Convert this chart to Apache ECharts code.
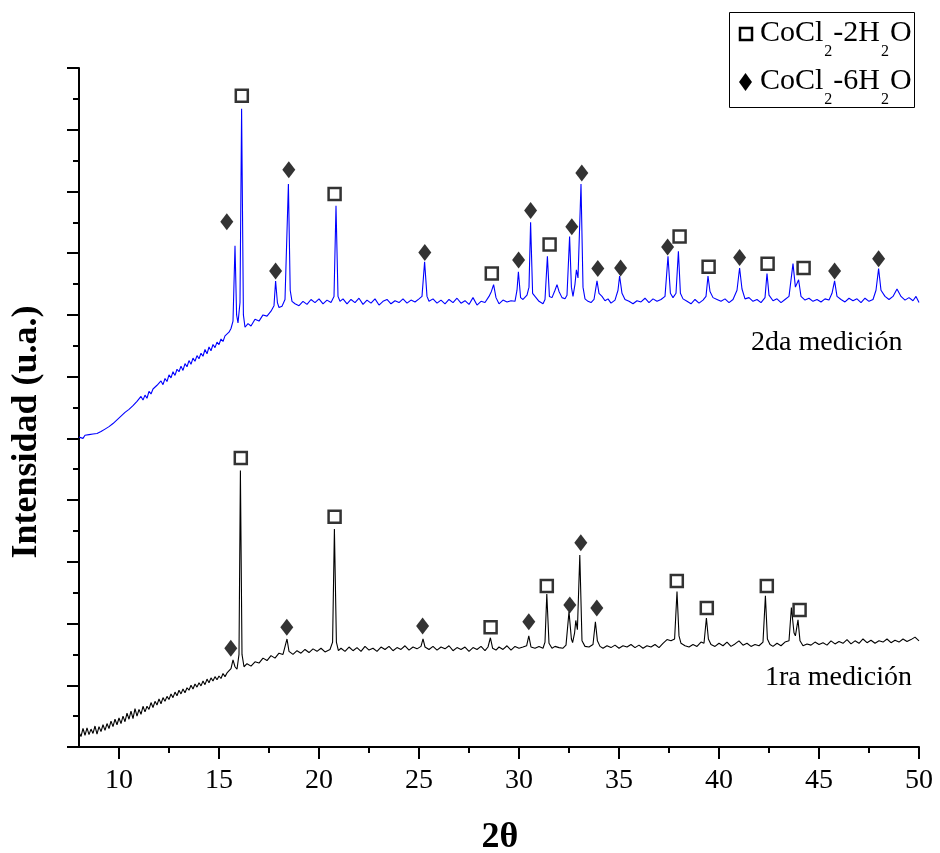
<!DOCTYPE html>
<html>
<head>
<meta charset="utf-8">
<script src="https://cdn.jsdelivr.net/npm/echarts@6/dist/echarts.min.js"></script>
<style>
html,body{margin:0;padding:0;background:#fff;}
#chart{width:940px;height:853px;}
</style>
</head>
<body>
<div id="chart"></div>
<script>
// ---- data (2θ, intensity in arbitrary units) ----
const xTickValues = [10, 15, 20, 25, 30, 35, 40, 45, 50];
const xMinorTickValues = [12.5, 17.5, 22.5, 27.5, 32.5, 37.5, 42.5, 47.5];

const medicion2 = [
[8.0,5.02],[8.1,5.04],[8.2,5.00],[8.3,5.05],[8.4,5.02],[8.5,5.06],[8.6,5.03],[8.7,5.07],[8.8,5.05],[8.9,5.08],
[9.0,5.07],[9.1,5.11],[9.2,5.10],[9.3,5.15],[9.4,5.14],[9.5,5.19],[9.6,5.18],[9.7,5.24],[9.8,5.23],[9.9,5.30],
[10.0,5.29],[10.1,5.36],[10.2,5.33],[10.3,5.42],[10.4,5.40],[10.5,5.47],[10.6,5.44],[10.7,5.53],[10.8,5.50],[10.9,5.60],
[11.0,5.57],[11.1,5.68],[11.2,5.62],[11.3,5.70],[11.4,5.65],[11.5,5.76],[11.6,5.72],[11.7,5.80],[11.8,5.77],[11.9,5.86],
[12.0,5.84],[12.1,5.93],[12.2,5.87],[12.3,5.97],[12.4,5.92],[12.5,6.03],[12.6,5.98],[12.7,6.08],[12.8,6.02],[12.9,6.12],
[13.0,6.08],[13.1,6.17],[13.2,6.10],[13.3,6.21],[13.4,6.16],[13.5,6.26],[13.6,6.20],[13.7,6.30],[13.8,6.25],[13.9,6.34],
[14.0,6.29],[14.1,6.38],[14.2,6.33],[14.3,6.44],[14.4,6.37],[14.5,6.48],[14.6,6.42],[14.7,6.52],[14.8,6.47],[14.9,6.56],
[15.0,6.52],[15.1,6.61],[15.2,6.57],[15.3,6.66],[15.4,6.63],[15.5,6.72],[15.6,6.78],[15.7,6.90],
[15.8,8.12],[15.88,7.0],[15.95,6.87],[16.05,7.2],[16.13,10.34],[16.22,7.0],[16.3,6.80],[16.45,6.86],[16.6,6.82],[16.8,6.93],
[17.0,6.90],[17.2,7.00],[17.4,6.98],[17.6,7.06],[17.75,7.15],[17.83,7.55],[17.92,7.2],[18.0,7.12],[18.15,7.14],[18.3,7.25],
[18.47,9.12],[18.56,7.4],[18.65,7.22],[18.8,7.18],[19.0,7.15],[19.2,7.22],[19.4,7.17],[19.6,7.25],[19.8,7.20],[20.0,7.26],
[20.2,7.18],[20.4,7.24],[20.6,7.20],[20.75,7.3],[20.85,8.77],[20.95,7.3],[21.05,7.22],[21.2,7.26],[21.4,7.18],[21.6,7.25],
[21.8,7.20],[22.0,7.27],[22.2,7.17],[22.4,7.24],[22.6,7.19],[22.8,7.26],[23.0,7.16],[23.2,7.22],[23.4,7.25],[23.6,7.18],
[23.8,7.23],[24.0,7.20],[24.2,7.26],[24.4,7.19],[24.6,7.24],[24.8,7.21],[25.0,7.26],[25.15,7.3],[25.28,7.86],[25.4,7.3],
[25.5,7.22],[25.7,7.26],[25.9,7.19],[26.1,7.24],[26.3,7.18],[26.5,7.25],[26.7,7.20],[26.9,7.27],[27.1,7.19],[27.3,7.23],
[27.5,7.17],[27.7,7.28],[27.9,7.16],[28.1,7.22],[28.3,7.20],[28.5,7.30],[28.62,7.38],[28.73,7.49],[28.85,7.28],[29.0,7.18],
[29.2,7.24],[29.4,7.21],[29.6,7.23],[29.8,7.22],[29.9,7.40],[29.97,7.70],[30.08,7.28],[30.2,7.25],[30.4,7.32],[30.5,7.45],
[30.58,8.50],[30.68,7.35],[30.8,7.30],[31.0,7.22],[31.2,7.18],[31.3,7.25],[31.42,7.95],[31.52,7.30],[31.65,7.28],[31.8,7.40],
[31.9,7.49],[32.0,7.38],[32.15,7.28],[32.3,7.26],[32.4,7.32],[32.53,8.27],[32.62,7.45],[32.7,7.30],[32.8,7.50],[32.87,7.73],
[32.95,7.6],[33.1,9.12],[33.2,7.45],[33.3,7.26],[33.45,7.22],[33.6,7.20],[33.75,7.25],[33.9,7.55],[34.0,7.35],[34.15,7.30],
[34.3,7.23],[34.45,7.26],[34.6,7.19],[34.8,7.24],[34.95,7.40],[35.03,7.63],[35.15,7.35],[35.3,7.25],[35.5,7.22],[35.7,7.18],
[35.9,7.23],[36.1,7.21],[36.3,7.27],[36.5,7.20],[36.7,7.26],[36.9,7.22],[37.1,7.25],[37.3,7.30],[37.45,7.95],[37.57,7.35],
[37.7,7.28],[37.85,7.35],[37.97,8.03],[38.07,7.35],[38.2,7.26],[38.4,7.22],[38.6,7.18],[38.8,7.25],[39.0,7.19],[39.2,7.24],
[39.35,7.30],[39.45,7.63],[39.55,7.38],[39.7,7.28],[39.9,7.25],[40.1,7.22],[40.3,7.26],[40.5,7.20],[40.7,7.25],[40.9,7.40],
[41.03,7.76],[41.15,7.42],[41.3,7.26],[41.5,7.28],[41.7,7.22],[41.9,7.25],[42.1,7.20],[42.3,7.28],[42.4,7.67],[42.5,7.32],
[42.7,7.23],[42.9,7.26],[43.1,7.20],[43.3,7.25],[43.5,7.30],[43.7,7.83],[43.82,7.45],[43.98,7.57],[44.1,7.30],[44.3,7.24],
[44.5,7.27],[44.7,7.22],[44.9,7.25],[45.1,7.21],[45.3,7.26],[45.5,7.24],[45.65,7.35],[45.78,7.55],[45.9,7.30],[46.1,7.25],
[46.3,7.21],[46.5,7.27],[46.7,7.23],[46.9,7.26],[47.1,7.20],[47.3,7.27],[47.5,7.22],[47.7,7.25],[47.85,7.40],[47.98,7.75],
[48.1,7.40],[48.3,7.30],[48.5,7.25],[48.7,7.30],[48.9,7.42],[49.1,7.30],[49.3,7.24],[49.5,7.28],[49.7,7.23],[49.85,7.30],
[50.0,7.20]
];

const medicion1 = [
[8.0,0.24],[8.1,0.17],[8.2,0.30],[8.3,0.19],[8.4,0.31],[8.5,0.20],[8.6,0.29],[8.7,0.22],[8.8,0.34],[8.9,0.21],
[9.0,0.33],[9.1,0.25],[9.2,0.36],[9.3,0.27],[9.4,0.38],[9.5,0.30],[9.6,0.42],[9.7,0.33],[9.8,0.45],[9.9,0.36],
[10.0,0.47],[10.1,0.38],[10.2,0.50],[10.3,0.41],[10.4,0.55],[10.5,0.45],[10.6,0.58],[10.7,0.46],[10.8,0.62],[10.9,0.50],
[11.0,0.61],[11.1,0.53],[11.2,0.66],[11.3,0.57],[11.4,0.66],[11.5,0.61],[11.6,0.72],[11.7,0.64],[11.8,0.74],[11.9,0.68],
[12.0,0.78],[12.1,0.70],[12.2,0.80],[12.3,0.74],[12.4,0.82],[12.5,0.77],[12.6,0.86],[12.7,0.80],[12.8,0.89],[12.9,0.83],
[13.0,0.92],[13.1,0.86],[13.2,0.94],[13.3,0.88],[13.4,0.96],[13.5,0.92],[13.6,1.00],[13.7,0.94],[13.8,1.02],[13.9,0.97],
[14.0,1.04],[14.1,0.99],[14.2,1.07],[14.3,1.01],[14.4,1.10],[14.5,1.04],[14.6,1.12],[14.7,1.07],[14.8,1.14],[14.9,1.09],
[15.0,1.15],[15.1,1.11],[15.2,1.19],[15.3,1.14],[15.4,1.20],[15.5,1.17],[15.6,1.27],[15.7,1.41],
[15.8,1.30],[15.9,1.26],[16.0,1.5],[16.07,4.48],[16.15,1.5],[16.25,1.30],[16.4,1.35],[16.6,1.31],[16.8,1.38],[17.0,1.36],
[17.2,1.44],[17.4,1.40],[17.6,1.48],[17.8,1.44],[18.0,1.52],[18.2,1.50],[18.4,1.75],[18.5,1.55],[18.7,1.50],[18.9,1.56],
[19.1,1.52],[19.3,1.58],[19.5,1.53],[19.7,1.59],[19.9,1.55],[20.1,1.60],[20.3,1.54],[20.55,1.58],[20.68,1.7],[20.77,3.53],
[20.87,1.7],[20.97,1.56],[21.1,1.60],[21.3,1.55],[21.5,1.62],[21.7,1.56],[21.9,1.61],[22.1,1.55],[22.3,1.63],[22.5,1.57],
[22.7,1.60],[22.9,1.55],[23.1,1.62],[23.3,1.58],[23.5,1.63],[23.7,1.56],[23.9,1.61],[24.1,1.58],[24.3,1.64],[24.5,1.57],
[24.7,1.62],[24.9,1.59],[25.1,1.63],[25.2,1.75],[25.3,1.62],[25.5,1.58],[25.7,1.63],[25.9,1.57],[26.1,1.62],[26.3,1.59],
[26.5,1.64],[26.7,1.56],[26.9,1.61],[27.1,1.58],[27.3,1.62],[27.5,1.55],[27.7,1.61],[27.9,1.58],[28.1,1.63],[28.3,1.56],
[28.45,1.62],[28.57,1.77],[28.68,1.60],[28.85,1.57],[29.0,1.62],[29.2,1.58],[29.4,1.64],[29.6,1.57],[29.8,1.63],[30.0,1.60],
[30.2,1.62],[30.38,1.64],[30.49,1.80],[30.6,1.62],[30.8,1.60],[31.0,1.63],[31.2,1.60],[31.3,1.70],[31.39,2.48],[31.5,1.68],
[31.65,1.60],[31.8,1.63],[32.0,1.61],[32.2,1.60],[32.35,1.65],[32.5,2.19],[32.62,1.75],[32.68,1.69],[32.78,1.85],[32.84,2.05],
[32.92,1.9],[33.04,3.11],[33.15,1.72],[33.3,1.63],[33.5,1.62],[33.7,1.66],[33.82,2.03],[33.92,1.72],[34.05,1.63],[34.2,1.60],
[34.4,1.64],[34.6,1.61],[34.8,1.65],[35.0,1.60],[35.2,1.64],[35.4,1.62],[35.6,1.66],[35.8,1.61],[36.0,1.65],[36.2,1.60],
[36.4,1.64],[36.6,1.62],[36.8,1.66],[37.0,1.61],[37.2,1.68],[37.4,1.74],[37.6,1.72],[37.78,1.75],[37.9,2.52],[38.0,1.80],
[38.1,1.68],[38.3,1.64],[38.5,1.62],[38.7,1.66],[38.9,1.63],[39.1,1.70],[39.25,1.68],[39.37,2.09],[39.47,1.75],[39.6,1.66],
[39.8,1.63],[40.0,1.68],[40.2,1.64],[40.4,1.70],[40.6,1.63],[40.8,1.67],[41.0,1.72],[41.2,1.65],[41.4,1.68],[41.6,1.63],
[41.8,1.66],[42.0,1.64],[42.2,1.70],[42.32,2.45],[42.42,1.75],[42.55,1.66],[42.7,1.63],[42.9,1.68],[43.1,1.64],[43.3,1.70],
[43.5,1.72],[43.62,2.26],[43.75,1.85],[43.82,1.80],[43.95,2.06],[44.05,1.72],[44.2,1.64],[44.4,1.67],[44.6,1.65],[44.8,1.70],
[45.0,1.66],[45.2,1.69],[45.4,1.65],[45.6,1.72],[45.8,1.67],[46.0,1.71],[46.2,1.68],[46.4,1.74],[46.6,1.67],[46.8,1.72],
[47.0,1.68],[47.2,1.75],[47.4,1.69],[47.6,1.73],[47.8,1.68],[48.0,1.72],[48.2,1.70],[48.4,1.75],[48.6,1.69],[48.8,1.73],
[49.0,1.70],[49.2,1.75],[49.4,1.71],[49.6,1.74],[49.8,1.78],[50.0,1.72]
];

// phase markers
const dihidrato2 = [[16.14,10.55],[20.78,8.96],[28.64,7.67],[31.53,8.14],[38.03,8.27],[39.48,7.78],[42.43,7.83],[44.23,7.76]];
const hexahidrato2 = [[15.39,8.51],[17.83,7.71],[18.49,9.35],[25.29,8.01],[29.98,7.89],[30.58,8.69],[32.64,8.43],[33.14,9.30],[33.94,7.75],[35.08,7.76],[37.43,8.10],[41.03,7.93],[45.78,7.71],[47.98,7.91]];
const dihidrato1 = [[16.09,4.68],[20.78,3.73],[28.58,1.94],[31.39,2.61],[37.89,2.69],[39.39,2.25],[42.39,2.61],[44.03,2.22]];
const hexahidrato1 = [[15.59,1.60],[18.39,1.94],[25.18,1.96],[30.49,2.03],[32.54,2.30],[33.09,3.31],[33.89,2.25]];

const curveLabels = ['2da medición', '1ra medición'];
const legendNames = ['CoCl2-2H2O', 'CoCl2-6H2O'];

// ---- chart ----
const FONT = "'Liberation Serif', 'Times New Roman', serif";
const chart = echarts.init(document.getElementById('chart'), null, {renderer: 'canvas'});

const squareStyle = {color: '#ffffff', borderColor: '#000000', borderWidth: 2.5};
const diamondStyle = {color: '#000000'};

function formula(n) {
  return '{n|CoCl}{s|2}{n|-' + n + 'H}{s|2}{n|O}';
}
const richSub = {
  n: {fontSize: 30, fontFamily: FONT, color: '#000', verticalAlign: 'top'},
  s: {fontSize: 16, fontFamily: FONT, color: '#000', verticalAlign: 'top', padding: [26, 1, 0, 1]}
};

const option = {
  animation: false,
  backgroundColor: '#ffffff',
  grid: {left: 79, right: 21, top: 68, bottom: 106, containLabel: false},
  xAxis: [{
    type: 'value', min: 8, max: 50, position: 'bottom',
    axisLine: {show: true, onZero: false, lineStyle: {color: '#000', width: 2}},
    axisTick: {show: true, inside: false, length: 12, lineStyle: {color: '#000', width: 2}, customValues: xTickValues},
    axisLabel: {show: true, margin: 20, fontSize: 28, fontFamily: FONT, color: '#000', customValues: xTickValues},
    splitLine: {show: false}
  }, {
    type: 'value', min: 8, max: 50, position: 'bottom', gridIndex: 0,
    axisLine: {show: false, onZero: false},
    axisTick: {show: true, inside: false, length: 6, lineStyle: {color: '#000', width: 2}, customValues: xMinorTickValues},
    axisLabel: {show: false},
    splitLine: {show: false}
  }],
  yAxis: {
    type: 'value', min: 0, max: 11, interval: 1,
    axisLine: {show: true, onZero: false, lineStyle: {color: '#000', width: 2}},
    axisTick: {show: true, inside: false, length: 12, lineStyle: {color: '#000', width: 2}},
    minorTick: {show: true, splitNumber: 2, length: 6, lineStyle: {color: '#000', width: 2}},
    axisLabel: {show: false},
    splitLine: {show: false},
    minorSplitLine: {show: false}
  },
  series: [
    {type: 'line', name: curveLabels[0], data: medicion2, showSymbol: false, symbol: 'none',
     lineStyle: {color: '#0000ff', width: 1.1}, z: 2, silent: true},
    {type: 'line', name: curveLabels[1], data: medicion1, showSymbol: false, symbol: 'none',
     lineStyle: {color: '#000000', width: 1.1}, z: 2, silent: true},
    {type: 'scatter', name: legendNames[0], data: dihidrato2, symbol: 'rect', symbolSize: [12, 12], itemStyle: squareStyle, z: 5, silent: true},
    {type: 'scatter', name: legendNames[0], data: dihidrato1, symbol: 'rect', symbolSize: [12, 12], itemStyle: squareStyle, z: 5, silent: true},
    {type: 'scatter', name: legendNames[1], data: hexahidrato2, symbol: 'diamond', symbolSize: [13, 17], itemStyle: diamondStyle, z: 5, silent: true},
    {type: 'scatter', name: legendNames[1], data: hexahidrato1, symbol: 'diamond', symbolSize: [13, 17], itemStyle: diamondStyle, z: 5, silent: true}
  ],
  graphic: [
    {type: 'text', x: 27, y: 432, rotation: Math.PI / 2,
     style: {text: 'Intensidad (u.a.)', font: "bold 36px " + FONT, fill: '#000', align: 'center', verticalAlign: 'middle'}},
    {type: 'text', x: 500, y: 838,
     style: {text: '2θ', font: "bold 36px " + FONT, fill: '#000', align: 'center', verticalAlign: 'middle'}},
    {type: 'text', x: 751, y: 343,
     style: {text: curveLabels[0], font: "28px " + FONT, fill: '#000', align: 'left', verticalAlign: 'middle'}},
    {type: 'text', x: 765, y: 678,
     style: {text: curveLabels[1], font: "28px " + FONT, fill: '#000', align: 'left', verticalAlign: 'middle'}},
    {type: 'rect', shape: {x: 729.5, y: 12.5, width: 185, height: 95},
     style: {fill: '#fff', stroke: '#000', lineWidth: 1}, z: 10},
    {type: 'rect', shape: {x: 740, y: 28, width: 12, height: 12},
     style: {fill: '#fff', stroke: '#000', lineWidth: 2.5}, z: 11},
    {type: 'polygon', shape: {points: [[745.5, 73], [752, 82], [745.5, 91], [739, 82]]},
     style: {fill: '#000'}, z: 11},
    {type: 'text', x: 760, y: 18, z: 11,
     style: {text: formula(2), rich: richSub, verticalAlign: 'top', align: 'left'}},
    {type: 'text', x: 760, y: 66, z: 11,
     style: {text: formula(6), rich: richSub, verticalAlign: 'top', align: 'left'}}
  ]
};
chart.setOption(option);
</script>
</body>
</html>
